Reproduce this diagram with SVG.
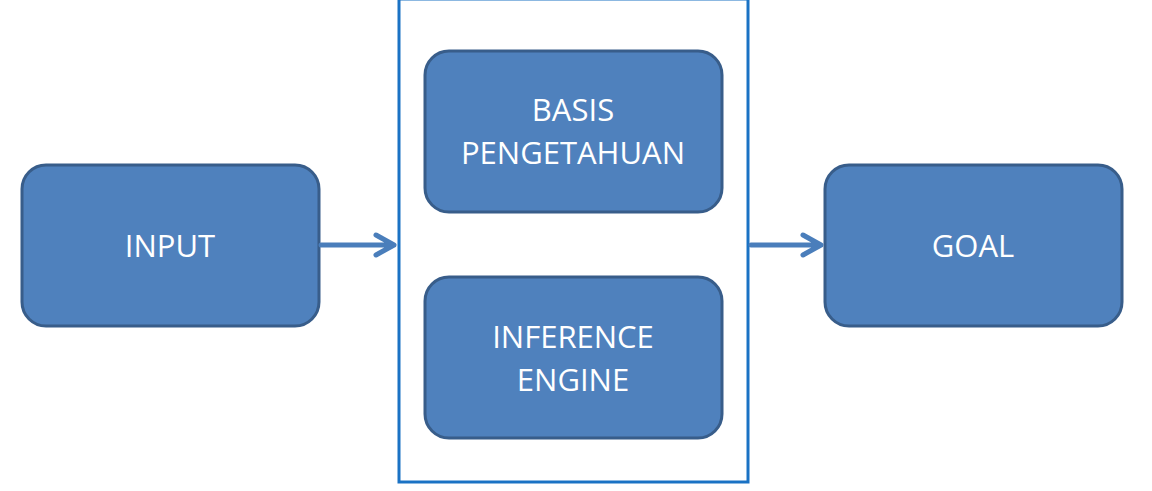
<svg xmlns="http://www.w3.org/2000/svg" width="1152" height="491" viewBox="0 0 1152 491">
<defs>
<style>
.box{fill:#4F81BD;stroke:#385D8A;stroke-width:3}
.lbl{fill:#FFFFFF;font-family:"Open Sans","Liberation Sans",sans-serif;font-size:31px;text-anchor:middle}
.con{fill:none;stroke:#4A7EBB;stroke-width:5;stroke-linecap:round;stroke-linejoin:round}
</style>
</defs>
<rect width="1152" height="491" fill="#FFFFFF"/>
<g id="frame"><rect x="399" y="-1" width="349" height="483" fill="none" stroke="#1A72C4" stroke-width="3"/></g>
<g id="input"><rect class="box" x="22" y="165" width="297" height="161" rx="24"/><text class="lbl" x="170" y="257">INPUT</text></g>
<g id="basis"><rect class="box" x="425" y="51" width="297" height="161" rx="24"/><text class="lbl" x="573" y="121">BASIS</text><text class="lbl" x="573" y="164">PENGETAHUAN</text></g>
<g id="inference"><rect class="box" x="425" y="277" width="297" height="161" rx="24"/><text class="lbl" x="573" y="348">INFERENCE</text><text class="lbl" x="573" y="391">ENGINE</text></g>
<g id="goal"><rect class="box" x="825" y="165" width="297" height="161" rx="24"/><text class="lbl" x="973" y="257">GOAL</text></g>
<g id="connectors">
<path class="con" d="M321 245 H394 M376 235 L394 245 L376 255"/>
<path class="con" d="M751 245 H821 M803 235 L821 245 L803 255"/>
</g>
</svg>
